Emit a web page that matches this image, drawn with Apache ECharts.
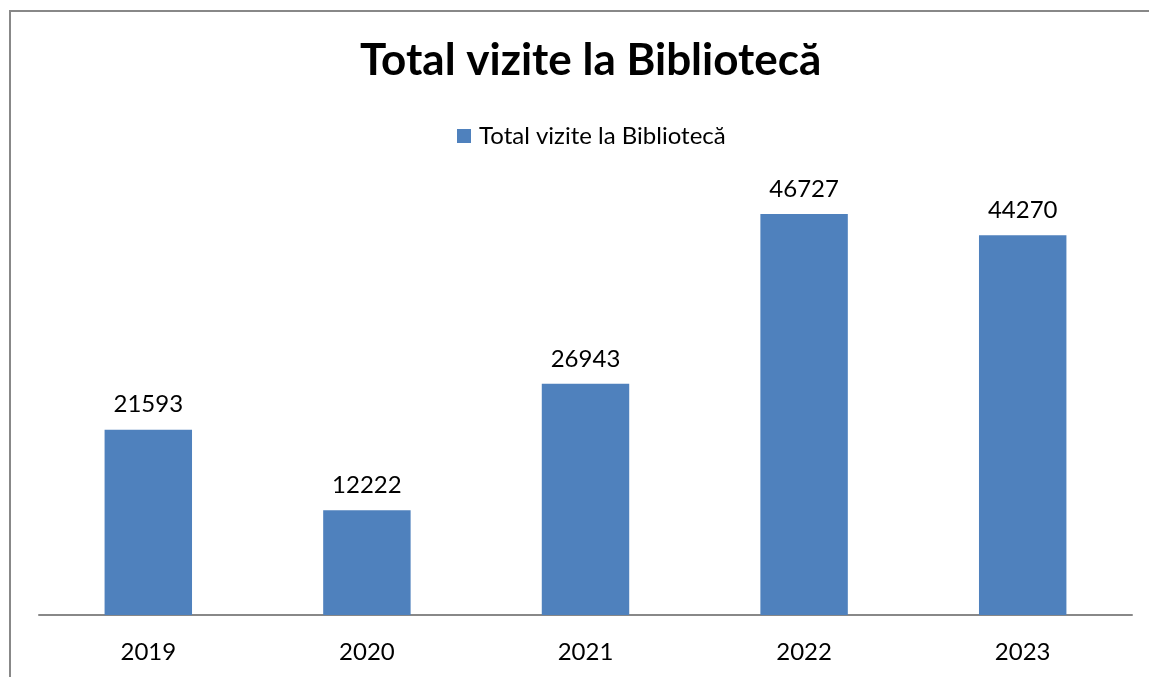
<!DOCTYPE html>
<html>
<head>
<meta charset="utf-8">
<script src="https://cdn.jsdelivr.net/npm/echarts@6/dist/echarts.min.js"></script>
<style>
  html, body { margin: 0; padding: 0; background: #fff; }
  #chart { width: 1149px; height: 677px; }
</style>
</head>
<body>
<div id="chart"></div>
<script>
// date
const years = ["2019", "2020", "2021", "2022", "2023"];
const visits = [21593, 12222, 26943, 46727, 44270];
const seriesName = "Total vizite la Bibliotecă";

const chart = echarts.init(document.getElementById("chart"));

const fontFam = "Lato, 'Open Sans', sans-serif";

chart.setOption({
  animation: false,
  textStyle: { fontFamily: fontFam },
  // chenarul gri al graficului
  graphic: [
    {
      type: "rect",
      shape: { x: 10, y: 11, width: 1200, height: 700 },
      style: { fill: "none", stroke: "#888", lineWidth: 2 },
    },
  ],
  title: {
    text: "Total vizite la Bibliotecă",
    left: 355,
    top: 34,
    textStyle: { fontSize: 44, fontWeight: "bold", color: "#000", fontFamily: fontFam },
  },
  legend: {
    top: 119,
    left: 452,
    itemWidth: 14,
    itemHeight: 14,
    itemGap: 6,
    icon: "rect",
    textStyle: { fontSize: 24, color: "#000", padding: [0, 0, 0, 3] },
    data: [seriesName],
  },
  grid: { left: 39, right: 17, top: 186, bottom: 62 },
  xAxis: {
    type: "category",
    data: years,
    axisLine: { lineStyle: { color: "#888", width: 2 } },
    axisTick: { show: false },
    axisLabel: { fontSize: 24, color: "#000", margin: 25 },
  },
  yAxis: {
    type: "value",
    min: 0,
    max: 50000,
    show: false,
    splitLine: { show: false },
  },
  series: [
    {
      name: seriesName,
      type: "bar",
      data: visits,
      barCategoryGap: "60%",
      itemStyle: { color: "#4f81bd" },
      label: {
        show: true,
        position: "top",
        distance: 13,
        fontSize: 24,
        color: "#000",
      },
    },
  ],
});
</script>
</body>
</html>
